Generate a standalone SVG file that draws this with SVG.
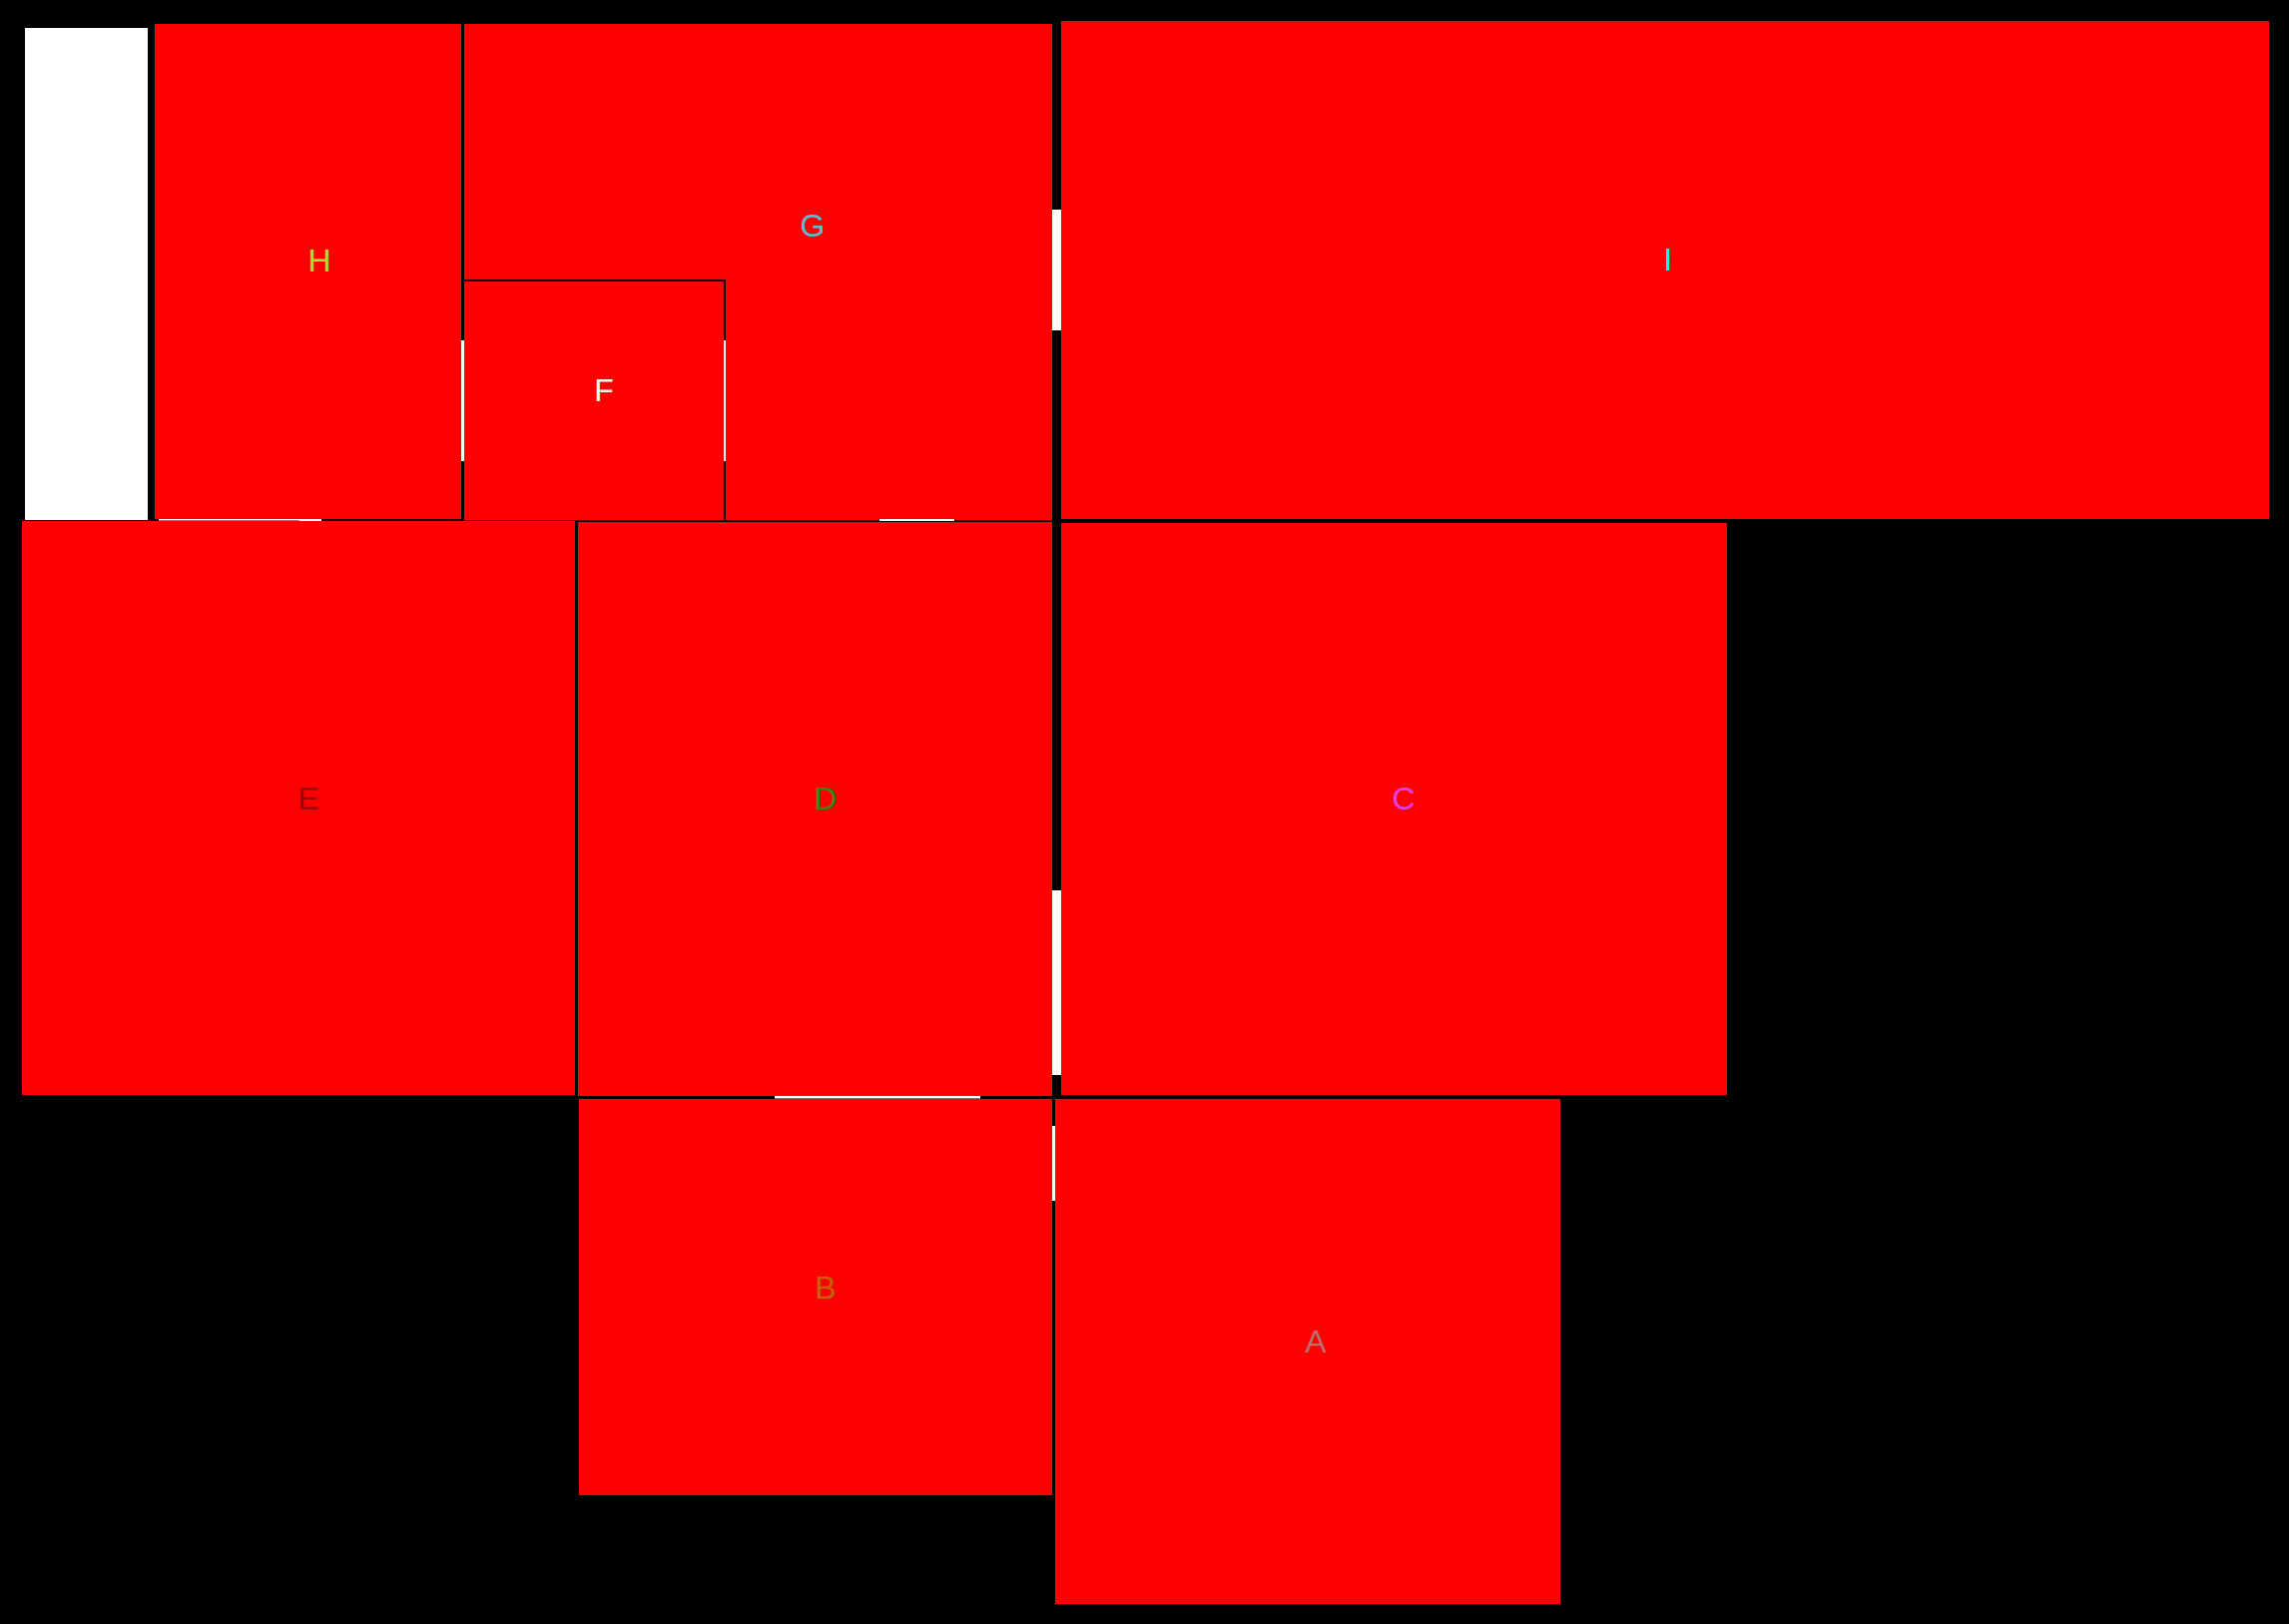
<svg xmlns="http://www.w3.org/2000/svg" width="2293" height="1627" viewBox="0 0 2293 1627">
<style>
.room{fill:#ff0000}
.lbl{font-family:"Liberation Sans",Arial,sans-serif;font-size:32px;text-anchor:middle}
.door{fill:#ffffff}
.wall{fill:#000000}
</style>
<rect x="0" y="0" width="2293" height="1627" fill="#000000"/>
<g id="void"><rect x="25" y="28" width="123" height="493" fill="#ffffff"/></g>
<g id="room-H"><rect class="room" x="155" y="24" width="307" height="496"/><text class="lbl" x="320" y="272" fill="#a6e23c">H</text></g>
<g id="room-G"><rect class="room" x="465" y="24" width="589" height="497"/><text class="lbl" x="814" y="237" fill="#4fc3d6">G</text></g>
<g id="room-F"><rect class="wall" x="463" y="280" width="264" height="2"/><rect class="wall" x="725" y="280" width="2" height="241"/><rect class="room" x="465" y="282" width="260" height="239"/><text class="lbl" x="605" y="402" fill="#f2f2f2">F</text></g>
<g id="room-I"><rect class="room" x="1063" y="21" width="1210" height="499"/><text class="lbl" x="1671" y="271" fill="#00ffff">I</text></g>
<g id="room-E"><rect class="room" x="22" y="522" width="554" height="575"/><text class="lbl" x="309" y="811" fill="#960a0a">E</text></g>
<g id="room-D"><rect class="room" x="579" y="523" width="475" height="575"/><text class="lbl" x="827" y="811" fill="#2a8c14">D</text></g>
<g id="room-C"><rect class="room" x="1063" y="524" width="667" height="573"/><text class="lbl" x="1406" y="811" fill="#e040f0">C</text></g>
<g id="room-B"><rect class="room" x="580" y="1101" width="474" height="397"/><text class="lbl" x="827" y="1301" fill="#c4640f">B</text></g>
<g id="room-A"><rect class="room" x="1057" y="1101" width="506" height="506"/><text class="lbl" x="1318" y="1355" fill="#b87070">A</text></g>
<g id="doors">
<rect class="door" x="462" y="341" width="3" height="121"/>
<rect class="door" x="725" y="341" width="2" height="121"/>
<rect class="door" x="159" y="520" width="141" height="1.5"/>
<rect class="door" x="300" y="520" width="22" height="2"/>
<rect class="door" x="881" y="520" width="75" height="2"/>
<rect class="door" x="1054" y="210" width="9" height="121"/>
<rect class="door" x="1054" y="892" width="9" height="185"/>
<rect class="door" x="776" y="1098" width="206" height="2.5"/>
<rect class="door" x="1054" y="1128" width="3" height="75"/>
</g>
</svg>
